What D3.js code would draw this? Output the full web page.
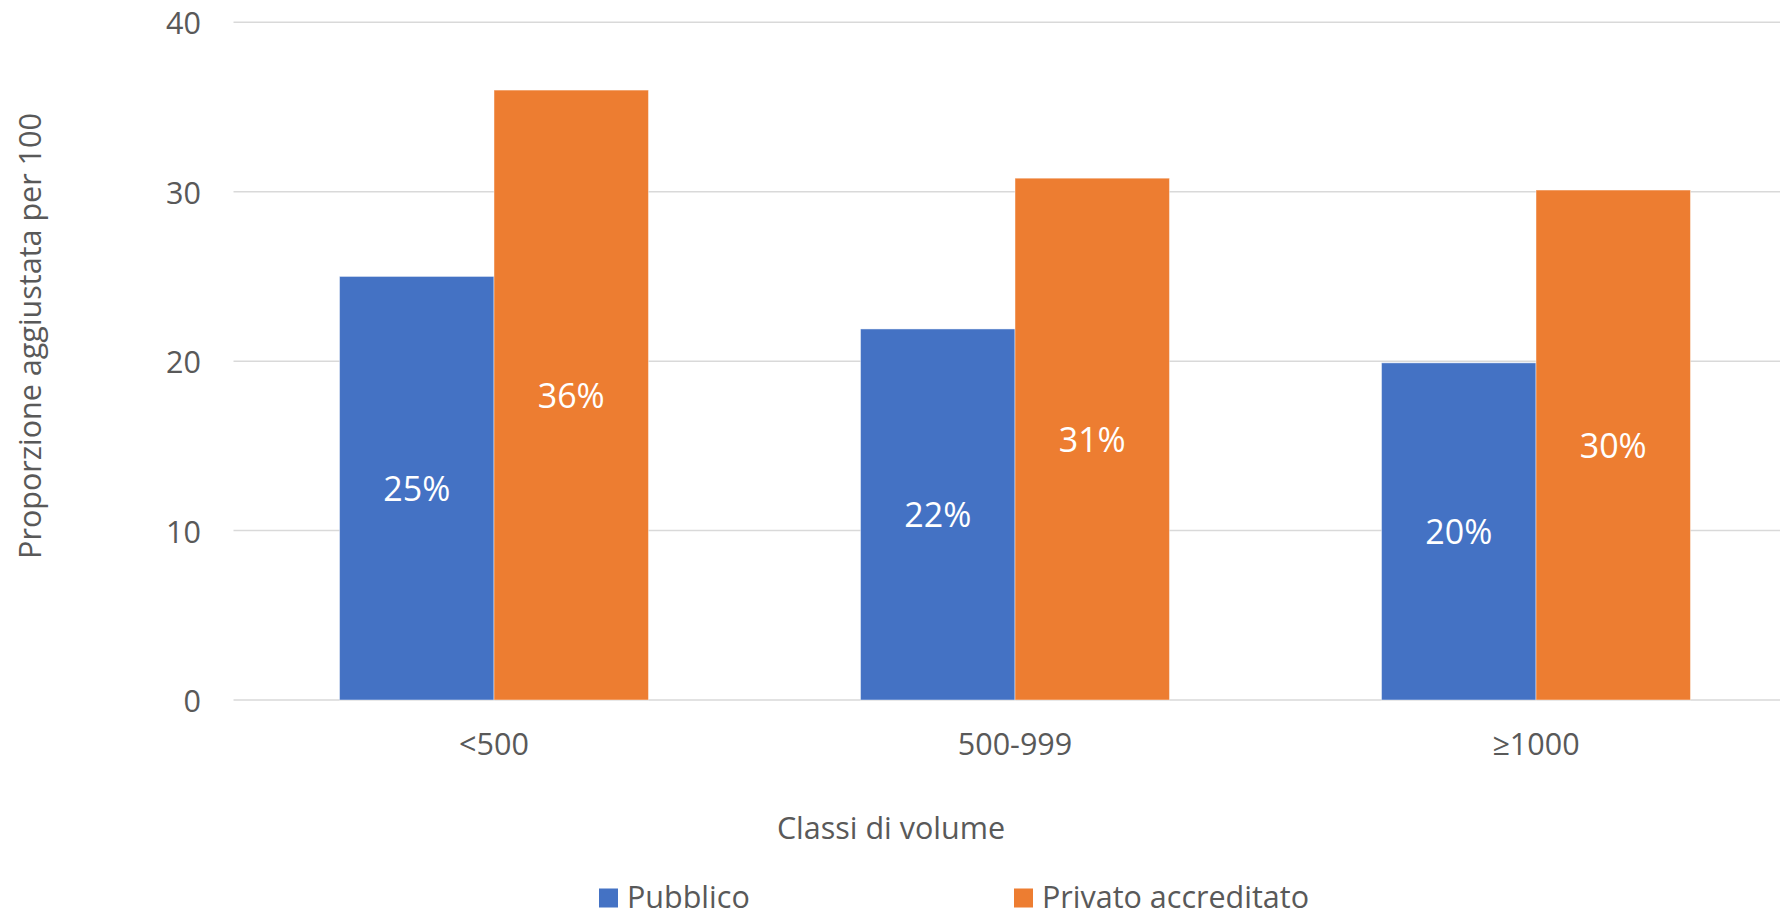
<!DOCTYPE html>
<html>
<head>
<meta charset="utf-8">
<script src="https://cdn.jsdelivr.net/npm/d3@7"></script>
<style>
  html, body { margin: 0; padding: 0; background: #fff; }
  text { font-family: "Open Sans", "Noto Sans", sans-serif; }
</style>
</head>
<body>
<svg id="chart" width="1780" height="916"></svg>
<script>
const categories = ["<500", "500-999", "≥1000"];
const seriesNames = ["Pubblico", "Privato accreditato"];
const pubblico = [25.0, 21.9, 19.9];
const privato = [36.0, 30.8, 30.1];
const pubblicoLabels = ["25%", "22%", "20%"];
const privatoLabels = ["36%", "31%", "30%"];
const yTicks = [0, 10, 20, 30, 40];
const colors = ["#4472C4", "#ED7D31"];

const svg = d3.select("#chart");
const W = 1780, H = 916;
const plot = { left: 233.5, right: 1796.5, top: 22.3, bottom: 700 };

const x0 = d3.scaleBand().domain(categories)
  .range([plot.left, plot.right]).paddingInner(0.407).paddingOuter(0.2035);
const x1 = d3.scaleBand().domain(seriesNames).range([0, x0.bandwidth()]).padding(0);
const y = d3.scaleLinear().domain([0, 40]).range([plot.bottom, plot.top]);

// gridlines
svg.append("g").selectAll("line").data(yTicks).join("line")
  .attr("x1", plot.left).attr("x2", W)
  .attr("y1", d => y(d)).attr("y2", d => y(d))
  .attr("stroke", "#D9D9D9").attr("stroke-width", 1.5);

// y tick labels
svg.append("g").selectAll("text").data(yTicks).join("text")
  .attr("x", 201).attr("y", d => y(d))
  .attr("text-anchor", "end").attr("dominant-baseline", "central")
  .attr("fill", "#595959").attr("font-size", 30.5)
  .text(d => d);

const rows = categories.map((c, i) => ({
  cat: c,
  vals: [
    { s: seriesNames[0], v: pubblico[i], label: pubblicoLabels[i], color: colors[0] },
    { s: seriesNames[1], v: privato[i], label: privatoLabels[i], color: colors[1] }
  ]
}));

const groups = svg.append("g").selectAll("g").data(rows).join("g")
  .attr("transform", d => `translate(${x0(d.cat)},0)`);

groups.selectAll("rect").data(d => d.vals).join("rect")
  .attr("x", d => x1(d.s)).attr("width", x1.bandwidth())
  .attr("y", d => y(d.v)).attr("height", d => y(0) - y(d.v))
  .attr("fill", d => d.color)
  .attr("stroke", "rgba(255,255,255,0.45)").attr("stroke-width", 1);

groups.selectAll("text").data(d => d.vals).join("text")
  .attr("x", d => x1(d.s) + x1.bandwidth() / 2)
  .attr("y", d => (y(d.v) + y(0)) / 2)
  .attr("text-anchor", "middle").attr("dominant-baseline", "central")
  .attr("fill", "#fff").attr("font-size", 34)
  .text(d => d.label);

// x tick labels
svg.append("g").selectAll("text").data(categories).join("text")
  .attr("x", d => x0(d) + x0.bandwidth() / 2).attr("y", 755)
  .attr("text-anchor", "middle")
  .attr("fill", "#595959").attr("font-size", 30.5)
  .text(d => d);

// axis titles
svg.append("text")
  .attr("x", 891).attr("y", 839).attr("text-anchor", "middle")
  .attr("fill", "#595959").attr("font-size", 30.5)
  .text("Classi di volume");

svg.append("text")
  .attr("transform", "translate(41,336) rotate(-90)")
  .attr("text-anchor", "middle")
  .attr("fill", "#595959").attr("font-size", 30.5)
  .text("Proporzione aggiustata per 100");

// legend
const legendX = [599, 1014];
const legend = svg.append("g").selectAll("g").data(seriesNames).join("g")
  .attr("transform", (d, i) => `translate(${legendX[i]},0)`);
legend.append("rect").attr("x", 0).attr("y", 888.5).attr("width", 19).attr("height", 19)
  .attr("fill", (d, i) => colors[i]);
legend.append("text").attr("x", 28).attr("y", 908)
  .attr("fill", "#595959").attr("font-size", 30.5)
  .text(d => d);
</script>
</body>
</html>
